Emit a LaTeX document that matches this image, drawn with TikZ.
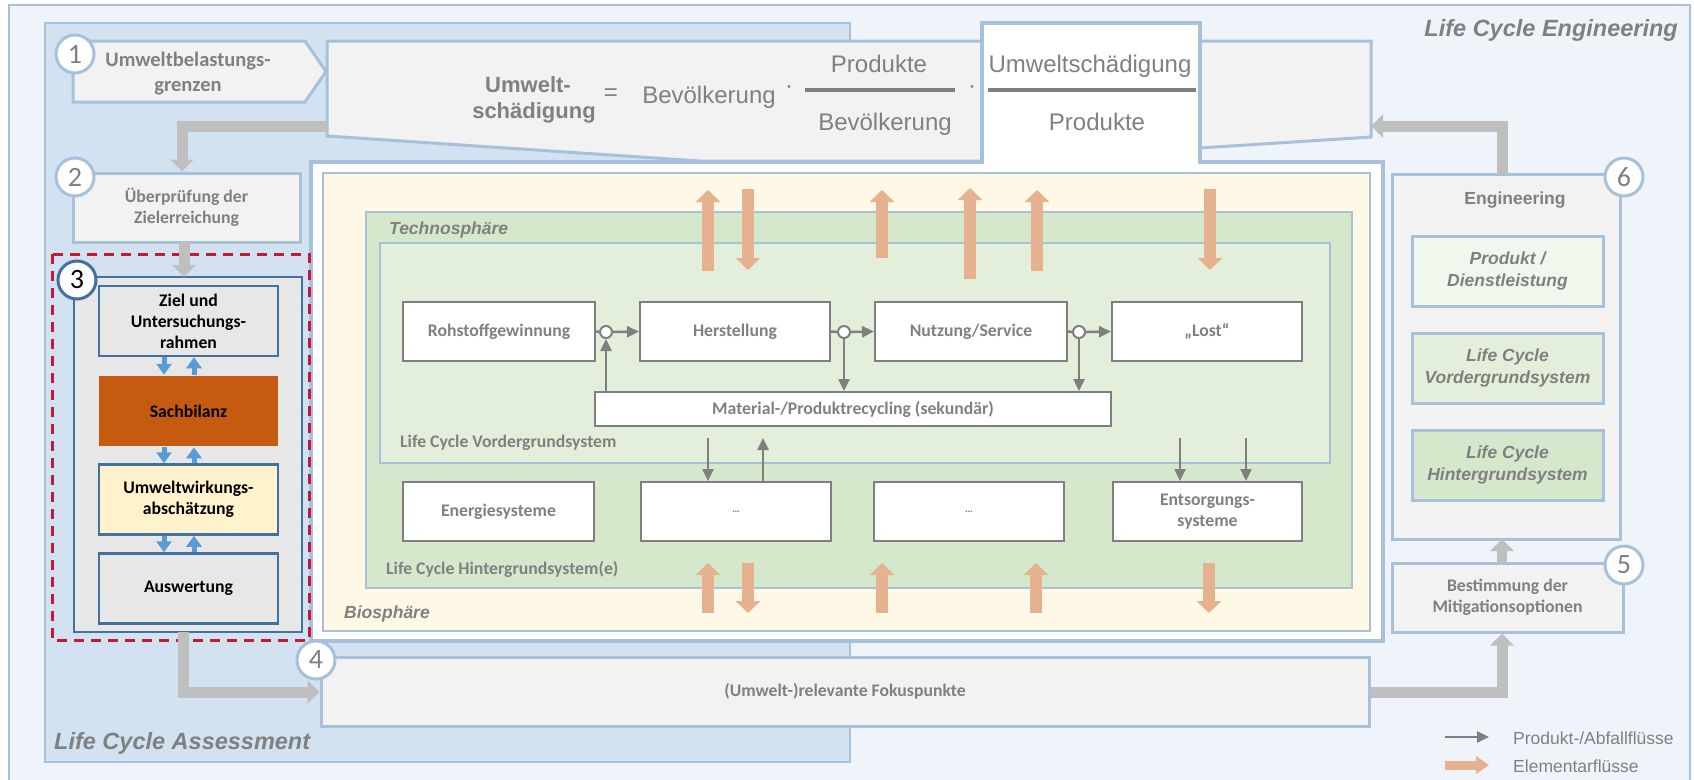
\documentclass[tikz,border=0pt]{standalone}
\usepackage{fontspec}
\setmainfont{Carlito}
\newfontfamily\arialf{Liberation Sans}
\usetikzlibrary{arrows.meta}
\definecolor{lceBg}{RGB}{239,244,251}
\definecolor{lcaBg}{RGB}{211,226,241}
\definecolor{frameBlue}{RGB}{168,193,218}
\definecolor{boxGray}{RGB}{242,242,242}
\definecolor{txtGray}{RGB}{128,128,128}
\definecolor{arrGray}{RGB}{191,191,191}
\definecolor{bioY}{RGB}{255,248,230}
\definecolor{techG}{RGB}{214,232,204}
\definecolor{fgG}{RGB}{227,239,219}
\definecolor{prodG}{RGB}{240,247,236}
\definecolor{elemO}{RGB}{229,177,142}
\definecolor{sachO}{RGB}{197,90,17}
\definecolor{umwY}{RGB}{255,242,204}
\definecolor{lcaGray}{RGB}{231,231,231}
\definecolor{darkBlue}{RGB}{65,113,156}
\definecolor{midBlue}{RGB}{91,155,213}
\definecolor{redDash}{RGB}{196,26,58}
\definecolor{flowGray}{RGB}{127,127,127}
\begin{document}
\begin{tikzpicture}[x=1pt,y=-1pt,
  lbl/.style={font=\bfseries\fontsize{17.7}{21}\selectfont, text=txtGray, align=center},
  flowbox/.style={draw=flowGray, line width=2pt, fill=white, inner sep=0pt, lbl},
  graybox/.style={draw=frameBlue, line width=3pt, fill=boxGray, inner sep=0pt, lbl},
  lcabox/.style={draw=darkBlue, line width=2.5pt, inner sep=0pt, font=\bfseries\fontsize{17.7}{21}\selectfont, text=black, align=center, minimum width=179pt, minimum height=70pt},
  engbox/.style={draw=frameBlue, line width=3pt, inner sep=0pt, font=\arialf\bfseries\itshape\fontsize{17.5}{21.5}\selectfont, text=txtGray, align=center, minimum width=191pt, minimum height=70pt},
  numcirc/.style={circle, draw=frameBlue, fill=white, line width=3pt, minimum size=38pt, inner sep=0pt, font=\fontsize{28}{28}\selectfont, text=txtGray},
  bigarrow/.style={draw=arrGray, line width=11pt, -{Triangle[width=23pt,length=12pt]}},
  elemarrow/.style={draw=elemO, line width=12pt, -{Triangle[width=24pt,length=12pt]}},
  flowarrow/.style={draw=flowGray, line width=2.5pt, -{Triangle[width=11pt,length=12pt]}},
  lcaarrow/.style={draw=midBlue, line width=5pt, -{Triangle[width=15pt,length=11pt]}},
  fx/.style={font=\arialf\fontsize{24}{28}\selectfont, text=txtGray, inner sep=0pt},
  sphere/.style={font=\arialf\bfseries\itshape\fontsize{17.5}{21}\selectfont, text=txtGray, inner sep=0pt},
  biglabel/.style={font=\arialf\bfseries\itshape\fontsize{23.5}{28}\selectfont, text=txtGray, inner sep=0pt}
]
\useasboundingbox (0,0) rectangle (1694,779);

% outer regions
\draw[fill=lceBg, draw=frameBlue, line width=2.5pt] (9,5) rectangle (1690,800);
\node[biglabel, anchor=east] (lcelbl) at (1678,30) {Life Cycle Engineering};
\draw[fill=lcaBg, draw=frameBlue, line width=2.5pt] (45,23) rectangle (850,762);
\node[biglabel, anchor=west] (lcalbl) at (54,743) {Life Cycle Assessment};

% box 1
\draw[fill=boxGray, draw=frameBlue, line width=3pt] (73,41) -- (305,41) -- (326,71.5) -- (305,102) -- (73,102) -- cycle;
\node[lbl, font=\bfseries\fontsize{20.5}{25}\selectfont] (box1) at (188,74) {Umweltbelastungs-\\grenzen};

% formula shapes
\draw[fill=boxGray, draw=frameBlue, line width=3pt] (327,41) -- (982,41) -- (982,161) -- (700,161) -- (327,136) -- cycle;
\draw[fill=boxGray, draw=frameBlue, line width=3pt] (1200,41) -- (1371,41) -- (1371,137) -- (1200,148) -- cycle;
\coordinate (formL) at (327,126);
\coordinate (formR) at (1371,126);

% panel with white formula box
\draw[fill=white, draw=frameBlue, line width=4pt, line join=miter] (982,23) -- (1200,23) -- (1200,162) -- (1383,162) -- (1383,641) -- (311,641) -- (311,162) -- (982,162) -- cycle;

% formula text
\node[font=\arialf\bfseries\fontsize{22}{26}\selectfont, text=txtGray, anchor=base, inner sep=0pt] (fu1) at (528,92) {Umwelt-};
\node[font=\arialf\bfseries\fontsize{22}{26}\selectfont, text=txtGray, anchor=base, inner sep=0pt] (fu2) at (534,118) {schädigung};
\node[fx] (feq) at (611,95) {=};
\node[fx, anchor=base] (fbev) at (709,103) {Bevölkerung};
\node[fx] (fdot1) at (789,90) {·};
\node[fx, anchor=base] (fn1) at (879,72) {Produkte};
\node[fx, anchor=base] (fd1) at (885,130) {Bevölkerung};
\draw[flowGray, line width=4pt] (805,90) -- (955,90);
\node[fx] (fdot2) at (972,90) {·};
\node[fx, anchor=base] (fn2) at (1090,72) {Umweltschädigung};
\node[fx, anchor=base] (fd2) at (1097,130) {Produkte};
\draw[flowGray, line width=4pt] (988,90) -- (1196,90);

% spheres
\draw[fill=bioY, draw=frameBlue, line width=1.5pt] (323,173) rectangle (1370,631);
\draw[fill=techG, draw=frameBlue, line width=1.5pt] (366,212) rectangle (1352,588);
\draw[fill=fgG, draw=frameBlue, line width=1.5pt] (380,243) rectangle (1330,463);
\node[sphere, anchor=west] (techlbl) at (389,230) {Technosphäre};
\node[sphere, anchor=west] (biolbl) at (344,614) {Biosphäre};
\node[lbl, anchor=west, inner sep=0pt] (fglbl) at (400,443) {Life Cycle Vordergrundsystem};
\node[lbl, anchor=west, inner sep=0pt] (bglbl) at (386,569) {Life Cycle Hintergrundsystem(e)};

% foreground processes
\node[flowbox, minimum width=192pt, minimum height=59pt] (roh) at (499,331.5) {Rohstoffgewinnung};
\node[flowbox, minimum width=190pt, minimum height=59pt] (her) at (735,331.5) {Herstellung};
\node[flowbox, minimum width=192pt, minimum height=59pt] (nut) at (971,331.5) {Nutzung/Service};
\node[flowbox, minimum width=190pt, minimum height=59pt] (lost) at (1207,331.5) {„Lost“};
\node[flowbox, minimum width=516pt, minimum height=34pt] (rec) at (853,409) {Material-/Produktrecycling (sekundär)};
% background processes
\node[flowbox, minimum width=191pt, minimum height=59pt] (ene) at (498.5,511.5) {Energiesysteme};
\node[flowbox, minimum width=190pt, minimum height=59pt, font=\bfseries\fontsize{11}{13}\selectfont] (dd1) at (736,511.5) {…};
\node[flowbox, minimum width=190pt, minimum height=59pt, font=\bfseries\fontsize{11}{13}\selectfont] (dd2) at (969,511.5) {…};
\node[flowbox, minimum width=189pt, minimum height=59pt] (ent) at (1207.5,511.5) {Entsorgungs-\\systeme};

% junctions
\node[circle, draw=flowGray, fill=white, line width=2pt, minimum size=12pt, inner sep=0pt] (j1) at (606,332) {};
\node[circle, draw=flowGray, fill=white, line width=2pt, minimum size=12pt, inner sep=0pt] (j2) at (844,332) {};
\node[circle, draw=flowGray, fill=white, line width=2pt, minimum size=12pt, inner sep=0pt] (j3) at (1079,332) {};
\draw[flowGray, line width=2.5pt] (roh.east) -- (j1.west);
\draw[flowGray, line width=2.5pt] (her.east) -- (j2.west);
\draw[flowGray, line width=2.5pt] (nut.east) -- (j3.west);
\draw[flowarrow] (j1.east) -- (her.west);
\draw[flowarrow] (j2.east) -- (nut.west);
\draw[flowarrow] (j3.east) -- (lost.west);
\draw[flowarrow] (j1 |- rec.north) -- (j1.south);
\draw[flowarrow] (j2.south) -- (j2 |- rec.north);
\draw[flowarrow] (j3.south) -- (j3 |- rec.north);
\coordinate (b1) at (708,438);
\coordinate (b2) at (763,438);
\coordinate (b3) at (1180,438);
\coordinate (b4) at (1246,438);
\draw[flowarrow] (b1) -- (b1 |- dd1.north);
\draw[flowarrow] (b2 |- dd1.north) -- (b2);
\draw[flowarrow] (b3) -- (b3 |- ent.north);
\draw[flowarrow] (b4) -- (b4 |- ent.north);

% elementary flows top
\draw[elemarrow] (708,271) -- (708,190);
\draw[elemarrow] (748,189) -- (748,270);
\draw[elemarrow] (882,258) -- (882,190);
\draw[elemarrow] (970,279) -- (970,188);
\draw[elemarrow] (1037,271) -- (1037,190);
\draw[elemarrow] (1210,189) -- (1210,270);
% elementary flows bottom
\draw[elemarrow] (708,613) -- (708,563);
\draw[elemarrow] (748,563) -- (748,613);
\draw[elemarrow] (882,613) -- (882,563);
\draw[elemarrow] (1036,613) -- (1036,563);
\draw[elemarrow] (1209,563) -- (1209,613);

% box 2
\node[graybox, minimum width=227pt, minimum height=69pt] (box2) at (186.5,207.5) {Überprüfung der\\Zielerreichung};

% LCA frame (3)
\node[draw=darkBlue, fill=lcaGray, line width=2.5pt, minimum width=228pt, minimum height=355pt, inner sep=0pt] (lcaframe) at (188,454.5) {};
\node[lcabox, fill=lcaGray] (ziel) at (188.5,321) {Ziel und\\Untersuchungs-\\rahmen};
\node[lcabox, fill=sachO, draw=none] (sach) at (188.5,411) {Sachbilanz};
\node[lcabox, fill=umwY] (umw) at (188.5,499.5) {Umweltwirkungs-\\abschätzung};
\node[lcabox, fill=lcaGray] (ausw) at (188.5,588.5) {Auswertung};
\draw[lcaarrow] ([xshift=-24.5pt]ziel.south) -- ([xshift=-24.5pt]sach.north);
\draw[lcaarrow] ([xshift=5.5pt]sach.north) -- ([xshift=5.5pt]ziel.south);
\draw[lcaarrow] ([xshift=-24.5pt]sach.south) -- ([xshift=-24.5pt]umw.north);
\draw[lcaarrow] ([xshift=5.5pt]umw.north) -- ([xshift=5.5pt]sach.south);
\draw[lcaarrow] ([xshift=-24.5pt]umw.south) -- ([xshift=-24.5pt]ausw.north);
\draw[lcaarrow] ([xshift=5.5pt]ausw.north) -- ([xshift=5.5pt]umw.south);
\draw[draw=redDash, line width=3pt, dash pattern=on 10pt off 7pt] (52,254) rectangle (309,640);

% Fokus box
\node[graybox, minimum width=1048pt, minimum height=69pt] (fokus) at (845,691.5) {(Umwelt-)relevante Fokuspunkte};

% right side
\node[graybox, minimum width=228pt, minimum height=365pt] (eng) at (1506,356.5) {};
\node[font=\arialf\bfseries\fontsize{17.5}{21}\selectfont, text=txtGray, inner sep=0pt] (englbl) at (1515,200) {Engineering};
\node[engbox, fill=prodG] (prod) at (1507.5,271) {Produkt /\\Dienstleistung};
\node[engbox, fill=fgG] (vg) at (1507.5,368) {Life Cycle\\Vordergrundsystem};
\node[engbox, fill=techG] (hg) at (1507.5,465) {Life Cycle\\Hintergrundsystem};
\node[graybox, minimum width=231pt, minimum height=69pt] (mit) at (1507.5,597.5) {Bestimmung der\\Mitigationsoptionen};

% big gray arrows
\coordinate (a1) at (182,126);
\draw[bigarrow] (formL) -- (a1) -- (a1 |- box2.north);
\draw[bigarrow] (184,242) -- (184 ,277);
\coordinate (a2) at (183,692);
\draw[bigarrow] (183,632) -- (a2) -- (fokus.west |- a2);
\coordinate (a3) at (1502,692);
\draw[bigarrow] (fokus.east |- a3) -- (a3) -- (a3 |- mit.south);
\draw[bigarrow, line width=10pt] (1502,563) -- (1502,539);
\coordinate (a4) at (1502,126);
\draw[bigarrow] (1502,174) -- (a4) -- (formR);

% numbered circles
\node[numcirc] (c1) at (75,54) {1};
\node[numcirc] (c2) at (75,177) {2};
\node[numcirc, draw=darkBlue, text=black] (c3) at (77,280) {3};
\node[numcirc] (c4) at (316,660) {4};
\node[numcirc] (c5) at (1624,565) {5};
\node[numcirc] (c6) at (1624,177) {6};

% legend
\coordinate (l1) at (1445,737);
\coordinate (l2) at (1489,737);
\draw[flowarrow] (l1) -- (l2);
\node[font=\arialf\fontsize{17.5}{21}\selectfont, text=txtGray, anchor=west, inner sep=0pt] (leg1) at (1513,738) {Produkt-/Abfallflüsse};
\coordinate (l3) at (1445,765);
\coordinate (l4) at (1489,765);
\draw[draw=elemO, line width=9pt, -{Triangle[width=17pt,length=13pt]}] (l3) -- (l4);
\node[font=\arialf\fontsize{17.5}{21}\selectfont, text=txtGray, anchor=west, inner sep=0pt] (leg2) at (1513,766) {Elementarflüsse};
\end{tikzpicture}
\end{document}
